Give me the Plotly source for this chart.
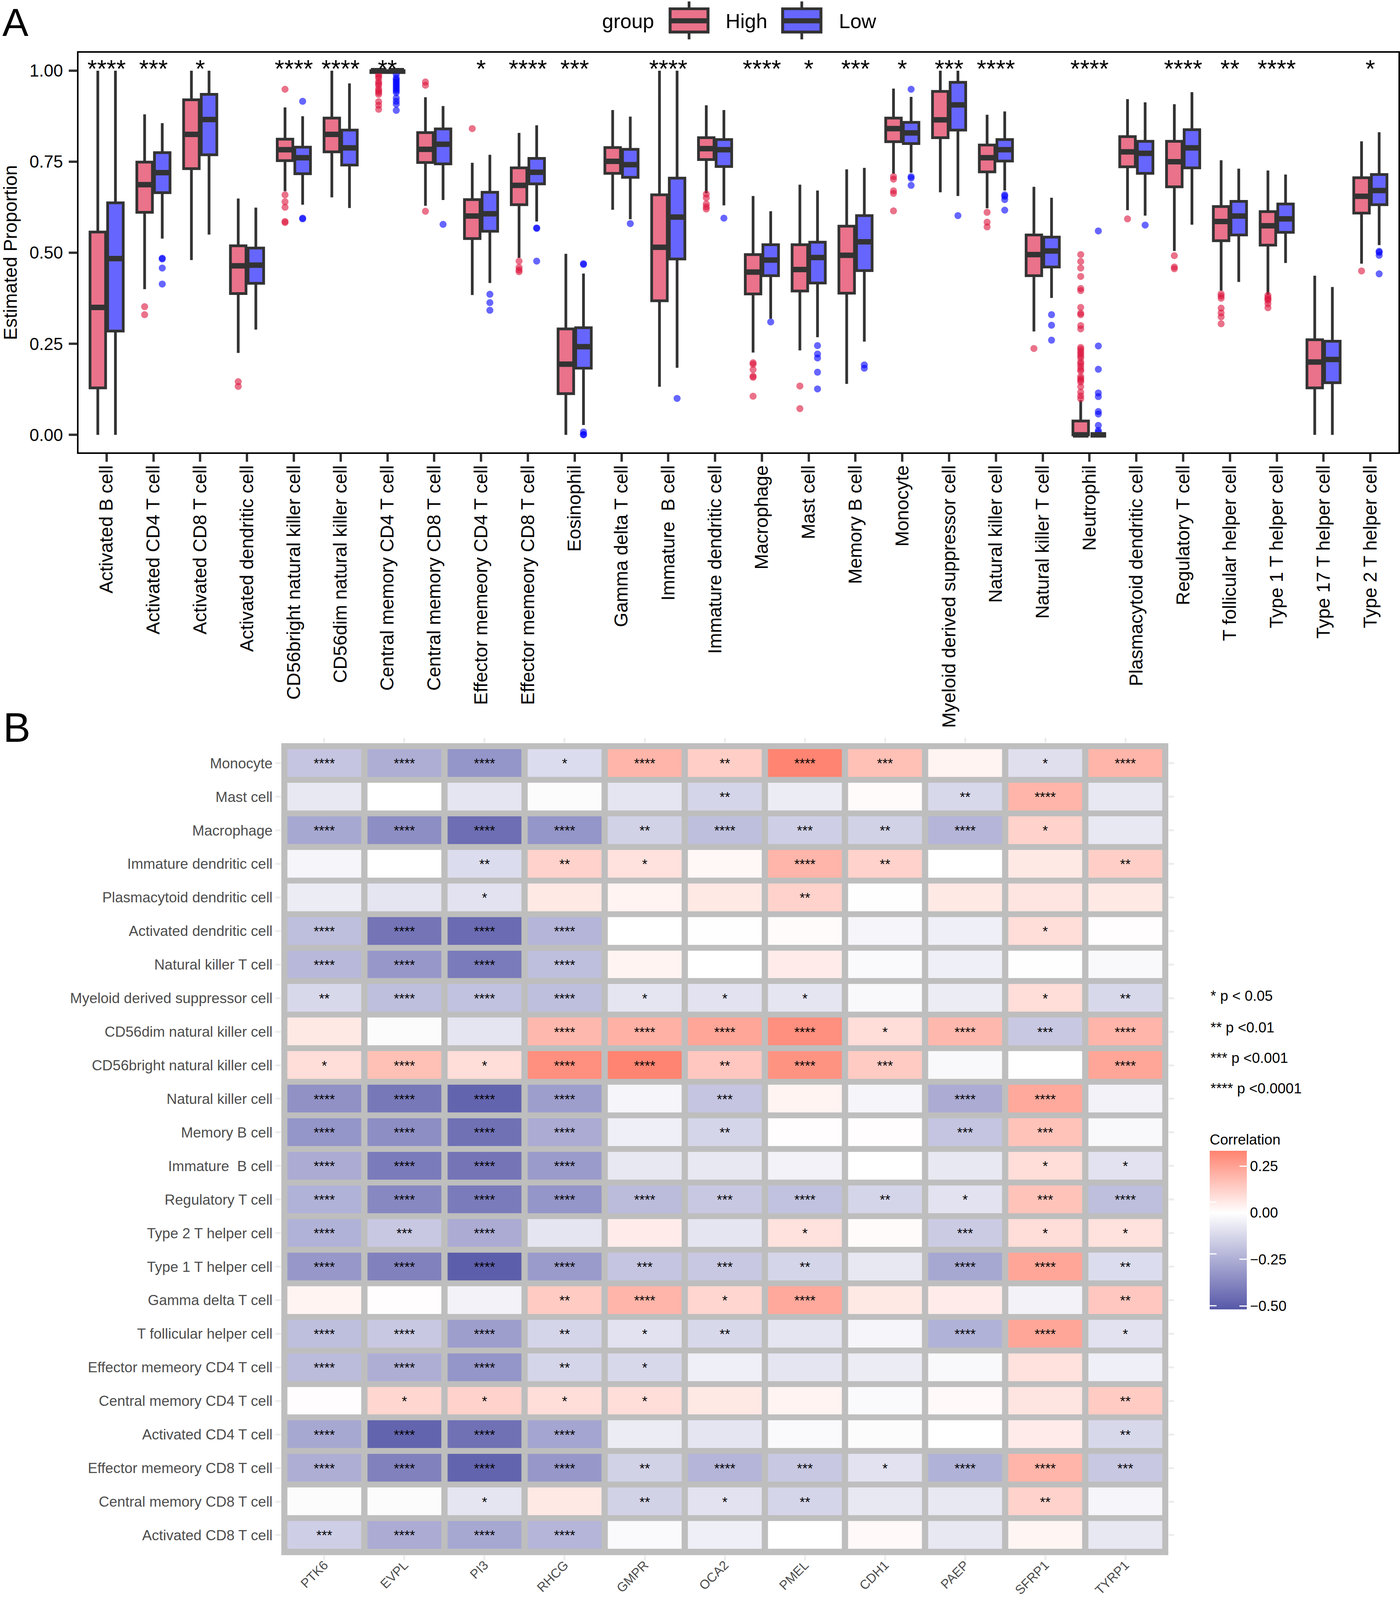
import plotly.graph_objects as go

# the browser only gives 4096 px of height, so the reference's 4390 px layout is kept as fractions of the page
W, H, REF_H = 3583, 4096, 4390
FONT = "Liberation Sans"
DARK = "#333333"

cells = ["Activated B cell", "Activated CD4 T cell", "Activated CD8 T cell", "Activated dendritic cell",
         "CD56bright natural killer cell", "CD56dim natural killer cell", "Central memory CD4 T cell",
         "Central memory CD8 T cell", "Effector memeory CD4 T cell", "Effector memeory CD8 T cell",
         "Eosinophil", "Gamma delta T cell", "Immature \u00a0B cell", "Immature dendritic cell", "Macrophage",
         "Mast cell", "Memory B cell", "Monocyte", "Myeloid derived suppressor cell", "Natural killer cell",
         "Natural killer T cell", "Neutrophil", "Plasmacytoid dendritic cell", "Regulatory T cell",
         "T follicular helper cell", "Type 1 T helper cell", "Type 17 T helper cell", "Type 2 T helper cell"]
sig = ["****", "***", "*", "", "****", "****", "**", "", "*", "****", "***", "", "****", "", "****", "*", "***",
       "*", "***", "****", "", "****", "", "****", "**", "****", "", "*"]
sig_y = [1.0] * 28

high_q1 = [.129, .611, .731, .388, .753, .777, .995, .748, .539, .632, .113, .718, .368, .756, .387, .395, .389,
           .805, .816, .722, .437, .0, .736, .681, .533, .521, .129, .609]
high_med = [.350, .687, .825, .464, .783, .825, 1.0, .784, .601, .685, .194, .751, .515, .786, .447, .454, .493,
            .841, .865, .761, .495, .0, .777, .750, .586, .574, .200, .655]
high_q3 = [.557, .749, .920, .519, .812, .870, 1.0, .830, .646, .733, .291, .789, .659, .816, .495, .522, .573,
           .870, .943, .796, .549, .038, .819, .806, .627, .613, .261, .706]
high_lo = [.0, .400, .480, .225, .669, .652, .995, .629, .384, .486, .0, .618, .132, .663, .226, .232, .140,
           .717, .666, .622, .284, .0, .617, .505, .396, .385, .0, .470]
high_up = [1.0, .880, 1.0, .649, .899, 1.0, 1.0, .927, .747, .829, .497, .892, 1.0, .905, .656, .687, .729,
           .951, 1.0, .879, .681, .095, .922, .908, .754, .726, .437, .806]
high_out = [[], [.352, .330], [], [.146, .133], [.949, .659, .640, .625, .586, .583], [],
            [.99, .985, .98, .97, .965, .96, .95, .945, .94, .935, .915, .905, .894], [.969, .960, .614], [.841],
            [.477, .460, .453, .448], [], [], [], [.661, .651, .634, .626, .620],
            [.198, .194, .179, .161, .158, .106], [.134, .072], [], [.709, .702, .670, .663, .615], [],
            [.611, .584, .571], [.237],
            [.495, .476, .458, .435, .402, .396, .350, .334, .330, .300, .291, .240, .235, .229, .223, .217, .211,
             .200, .195, .188, .180, .175, .160, .155, .150, .145, .132, .117, .107, .099],
            [.593], [.492, .461, .456], [.387, .381, .375, .348, .335, .324, .305],
            [.383, .377, .373, .369, .360, .349], [], [.450]]

low_q1 = [.285, .665, .769, .416, .717, .741, .995, .744, .559, .689, .183, .707, .483, .737, .437, .417, .451,
          .800, .837, .752, .461, .0, .718, .733, .549, .556, .143, .632]
low_med = [.484, .720, .866, .466, .761, .788, 1.0, .798, .607, .721, .242, .742, .598, .783, .480, .487, .530,
           .829, .906, .783, .505, .0, .773, .788, .601, .593, .207, .671]
low_q3 = [.637, .775, .935, .513, .790, .837, 1.0, .840, .666, .759, .294, .784, .705, .811, .522, .529, .602,
          .858, .968, .811, .543, .0, .806, .838, .641, .634, .257, .715]
low_lo = [.0, .539, .550, .289, .632, .623, .995, .645, .417, .586, .027, .592, .184, .630, .319, .268, .256,
          .720, .656, .671, .376, .0, .602, .577, .420, .472, .0, .521]
low_up = [1.0, .856, 1.0, .624, .875, .965, 1.0, .903, .769, .850, .443, .874, 1.0, .892, .614, .671, .733,
          .928, 1.0, .888, .651, .0, .913, .941, .731, .715, .406, .831]
low_out = [[], [.485, .483, .458, .414], [], [], [.916, .595, .593], [],
           [.99, .98, .975, .97, .965, .96, .955, .95, .945, .94, .925, .916, .908, .891], [.578], [.386, .363, .342],
           [.568, .567, .477], [.470, .468, .008, .001, .0], [.580], [.100], [.595], [.310],
           [.245, .222, .211, .172, .126], [.192, .183], [.949, .709, .705, .685], [.602],
           [.659, .655, .646, .617], [.330, .301, .260],
           [.560, .244, .180, .115, .105, .064, .057, .026, .012, .007], [.576], [], [], [], [],
           [.504, .501, .493, .442]]

y_ticks = [0, .25, .5, .75, 1]

genes = ["PTK6", "EVPL", "PI3", "RHCG", "GMPR", "OCA2", "PMEL", "CDH1", "PAEP", "SFRP1", "TYRP1"]
rows = ["Monocyte", "Mast cell", "Macrophage", "Immature dendritic cell", "Plasmacytoid dendritic cell",
        "Activated dendritic cell", "Natural killer T cell", "Myeloid derived suppressor cell",
        "CD56dim natural killer cell", "CD56bright natural killer cell", "Natural killer cell", "Memory B cell",
        "Immature \u00a0B cell", "Regulatory T cell", "Type 2 T helper cell", "Type 1 T helper cell",
        "Gamma delta T cell", "T follicular helper cell", "Effector memeory CD4 T cell", "Central memory CD4 T cell",
        "Activated CD4 T cell", "Effector memeory CD8 T cell", "Central memory CD8 T cell", "Activated CD8 T cell"]
corr = [[-.18, -.25, -.33, -.11, .20, .13, .33, .17, .03, -.10, .20],
        [-.07, .00, -.08, -.01, -.08, -.13, -.06, .01, -.12, .20, -.07],
        [-.27, -.35, -.45, -.33, -.14, -.20, -.15, -.14, -.23, .12, -.07],
        [-.03, .00, -.11, .12, .08, .02, .20, .12, .00, .06, .13],
        [-.06, -.08, -.09, .06, .03, .06, .12, -.002, .06, .07, .06],
        [-.20, -.43, -.46, -.23, .00, -.002, .01, -.03, -.05, .09, .005],
        [-.22, -.32, -.41, -.20, .03, .00, .05, -.015, -.05, .002, -.02],
        [-.12, -.20, -.19, -.20, -.08, -.09, -.08, -.02, -.06, .09, -.12],
        [.06, -.01, -.08, .19, .21, .24, .30, .09, .19, -.17, .20],
        [.09, .17, .09, .30, .33, .15, .29, .14, -.02, .001, .24],
        [-.34, -.42, -.48, -.30, -.03, -.18, .03, -.03, -.26, .23, -.04],
        [-.33, -.35, -.44, -.26, -.05, -.13, .005, .005, -.18, .16, -.02],
        [-.26, -.41, -.43, -.31, -.07, -.07, -.04, .00, -.07, .09, -.09],
        [-.24, -.37, -.41, -.33, -.21, -.17, -.19, -.13, -.09, .16, -.20],
        [-.24, -.17, -.26, -.08, .05, -.08, .08, .01, -.16, .09, .08],
        [-.32, -.39, -.50, -.31, -.18, -.17, -.13, -.07, -.27, .24, -.11],
        [.03, .005, -.04, .14, .20, .11, .23, .06, .05, -.04, .15],
        [-.20, -.17, -.30, -.13, -.09, -.12, -.08, -.03, -.24, .24, -.09],
        [-.21, -.25, -.33, -.13, -.12, -.05, -.08, -.06, -.02, .08, -.05],
        [.005, .11, .12, .09, .09, .06, .03, -.015, .015, .07, .14],
        [-.27, -.48, -.44, -.28, -.06, -.08, -.015, -.01, .00, .05, -.12],
        [-.25, -.39, -.48, -.32, -.14, -.23, -.17, -.09, -.24, .20, -.17],
        [-.01, -.01, -.08, .06, -.14, -.09, -.13, -.07, -.07, .12, -.03],
        [-.15, -.26, -.27, -.23, -.015, -.05, .00, .015, -.07, .025, -.07]]
stars = [["****", "****", "****", "*", "****", "**", "****", "***", "", "*", "****"],
         ["", "", "", "", "", "**", "", "", "**", "****", ""],
         ["****", "****", "****", "****", "**", "****", "***", "**", "****", "*", ""],
         ["", "", "**", "**", "*", "", "****", "**", "", "", "**"],
         ["", "", "*", "", "", "", "**", "", "", "", ""],
         ["****", "****", "****", "****", "", "", "", "", "", "*", ""],
         ["****", "****", "****", "****", "", "", "", "", "", "", ""],
         ["**", "****", "****", "****", "*", "*", "*", "", "", "*", "**"],
         ["", "", "", "****", "****", "****", "****", "*", "****", "***", "****"],
         ["*", "****", "*", "****", "****", "**", "****", "***", "", "", "****"],
         ["****", "****", "****", "****", "", "***", "", "", "****", "****", ""],
         ["****", "****", "****", "****", "", "**", "", "", "***", "***", ""],
         ["****", "****", "****", "****", "", "", "", "", "", "*", "*"],
         ["****", "****", "****", "****", "****", "***", "****", "**", "*", "***", "****"],
         ["****", "***", "****", "", "", "", "*", "", "***", "*", "*"],
         ["****", "****", "****", "****", "***", "***", "**", "", "****", "****", "**"],
         ["", "", "", "**", "****", "*", "****", "", "", "", "**"],
         ["****", "****", "****", "**", "*", "**", "", "", "****", "****", "*"],
         ["****", "****", "****", "**", "*", "", "", "", "", "", ""],
         ["", "*", "*", "*", "*", "", "", "", "", "", "**"],
         ["****", "****", "****", "****", "", "", "", "", "", "", "**"],
         ["****", "****", "****", "****", "**", "****", "***", "*", "****", "****", "***"],
         ["", "", "*", "", "**", "*", "**", "", "", "**", ""],
         ["***", "****", "****", "****", "", "", "", "", "", "", ""]]
cbar_ticks = [-.5, -.25, 0, .25]
p_notes = ["* p < 0.05", "** p <0.01", "*** p <0.001", "**** p <0.0001"]
p_notes_y = [2733, 2819, 2903, 2987]


def px(x):
    return x / W


def py(y):
    return 1 - y / REF_H


HIGH = "rgba(220,20,60,0.6)"
LOW = "rgba(0,0,255,0.6)"

fig = go.Figure()

# boxes, outliers come in through y; a box with none gets its median so the row is not empty (it is not drawn)
for name, col, q1, med, q3, lo, up, out in [("High", HIGH, high_q1, high_med, high_q3, high_lo, high_up, high_out),
                                            ("Low", LOW, low_q1, low_med, low_q3, low_lo, low_up, low_out)]:
    pts = [o if o else [m] for o, m in zip(out, med)]
    fig.add_trace(go.Box(x=cells, y=pts, q1=q1, median=med, q3=q3, lowerfence=lo, upperfence=up, name=name,
                         offsetgroup=name, alignmentgroup="a", fillcolor=col, whiskerwidth=0,
                         line=dict(color=DARK, width=7), boxpoints="outliers", pointpos=0, jitter=0,
                         marker=dict(color=col, size=18, line=dict(width=0)), xaxis="x", yaxis="y"))
# plotly has no fatten, so the thick median is a collapsed box on top
for name, med in [("High", high_med), ("Low", low_med)]:
    fig.add_trace(go.Box(x=cells, q1=med, median=med, q3=med, lowerfence=med, upperfence=med, name=name + " median",
                         offsetgroup=name, alignmentgroup="a", fillcolor=DARK, whiskerwidth=0, boxpoints=False,
                         line=dict(color=DARK, width=14), xaxis="x", yaxis="y"))

fig.add_trace(go.Scatter(x=cells, y=sig_y, text=sig, mode="text", textposition="middle center",
                         textfont=dict(family=FONT, size=63, color="black"), xaxis="x", yaxis="y"))

fig.add_trace(go.Heatmap(z=corr, x=genes, y=rows, text=stars, texttemplate="%{text}",
                         textfont=dict(family=FONT, size=35, color="black"), xgap=16, ygap=15,
                         zmin=-.518, zmax=.333,
                         colorscale=[[0, "#5758A8"], [.518 / .851, "#FFFFFF"], [1, "#FF8370"]],
                         colorbar=dict(x=px(3096), xanchor="left", xpad=0, y=py(3350), yanchor="middle", ypad=0,
                                       len=452, lenmode="pixels", thickness=95, thicknessmode="pixels",
                                       outlinewidth=0, ticks="inside", ticklen=19, tickcolor="white", tickwidth=3,
                                       tickvals=cbar_ticks, tickformat=".2f", tickprefix="\u00a0",
                                       tickfont=dict(family=FONT, size=37, color="black"),
                                       title=dict(text="Correlation", side="top",
                                                  font=dict(family=FONT, size=37, color="black"))),
                         xaxis="x2", yaxis="y2"))

shapes = [dict(type="rect", xref="x2 domain", yref="y2 domain", x0=0, x1=1, y0=0, y1=1, layer="below",
               fillcolor="#BEBEBE", line=dict(width=0))]
annotations = []

# legend of panel A
for x0, x1, col, label, label_x in [(1715, 1812, HIGH, "High", 1855), (2003, 2101, LOW, "Low", 2145)]:
    xc = (x0 + x1) / 2
    shapes.append(dict(type="line", xref="paper", yref="paper", x0=px(xc), x1=px(xc), y0=py(4), y1=py(108),
                       line=dict(color=DARK, width=7)))
    shapes.append(dict(type="rect", xref="paper", yref="paper", x0=px(x0), x1=px(x1), y0=py(88), y1=py(24),
                       fillcolor="white", line=dict(color=DARK, width=7)))
    shapes.append(dict(type="rect", xref="paper", yref="paper", x0=px(x0), x1=px(x1), y0=py(88), y1=py(24),
                       fillcolor=col, line=dict(color=DARK, width=7)))
    shapes.append(dict(type="line", xref="paper", yref="paper", x0=px(x0), x1=px(x1), y0=py(57), y1=py(57),
                       line=dict(color=DARK, width=13)))
    annotations.append(dict(text=label, xref="paper", yref="paper", x=px(label_x), y=py(58), xanchor="left",
                            yanchor="middle", showarrow=False, font=dict(family=FONT, size=52, color="black")))
annotations.append(dict(text="group", xref="paper", yref="paper", x=px(1539), y=py(58), xanchor="left",
                        yanchor="middle", showarrow=False, font=dict(family=FONT, size=52, color="black")))

annotations.append(dict(text="A", xref="paper", yref="paper", x=px(5), y=1, xanchor="left", yanchor="top",
                        showarrow=False, borderpad=0, font=dict(family=FONT, size=100, color="black")))
annotations.append(dict(text="B", xref="paper", yref="paper", x=px(6), y=py(1996), xanchor="left", yanchor="middle",
                        showarrow=False, font=dict(family=FONT, size=105, color="black")))

for t, y in zip(p_notes, p_notes_y):
    annotations.append(dict(text=t, xref="paper", yref="paper", x=px(3096), y=py(y), xanchor="left", yanchor="middle",
                            showarrow=False, font=dict(family=FONT, size=37, color="black")))

# left half of the white colourbar ticks
for v in cbar_ticks:
    annotations.append(dict(text="", xref="paper", yref="paper", x=px(3096), y=py(3298 - v / .25 * 142.3), ax=19, ay=0,
                            showarrow=True, arrowhead=0, arrowwidth=3, arrowcolor="white", standoff=0))

fig.update_layout(
    template="none", width=W, height=H, autosize=False, margin=dict(l=0, r=0, t=0, b=0, pad=0),
    paper_bgcolor="white", plot_bgcolor="white", showlegend=False,
    boxmode="group", boxgap=.247, boxgroupgap=.116,
    shapes=shapes, annotations=annotations,
    xaxis=dict(domain=[px(201), px(3579)], anchor="y", type="category", categoryorder="array", categoryarray=cells,
               range=[-.6, 27.6], tickangle=-90, ticks="outside", ticklen=20, tickwidth=6, tickcolor=DARK,
               tickfont=dict(family=FONT, size=48, color="black"), showline=True, linecolor="black", linewidth=4,
               mirror=True, showgrid=False, zeroline=False, ticklabelstandoff=-10, automargin=False),
    yaxis=dict(domain=[py(1241), py(145)], anchor="x", range=[-.048, 1.049], tickvals=y_ticks, tickformat=".2f",
               ticks="outside", ticklen=21, tickwidth=6, tickcolor=DARK,
               tickfont=dict(family=FONT, size=44, color="black"), showline=True, linecolor="black", linewidth=4,
               mirror=True, showgrid=False, zeroline=False, ticklabelstandoff=6, automargin=False,
               title=dict(text="Estimated Proportion", standoff=43, font=dict(family=FONT, size=48, color="black"))),
    xaxis2=dict(domain=[px(720), px(2990)], anchor="y2", type="category", categoryorder="array", categoryarray=genes,
                range=[-.5365, 10.5365], tickangle=-45, ticks="outside", ticklen=12, tickwidth=5, tickcolor="#EDEDED",
                mirror="ticks", tickfont=dict(family=FONT, size=33, color="#4D4D4D"), showline=False, showgrid=False,
                zeroline=False, ticklabelstandoff=-20, automargin=False),
    yaxis2=dict(domain=[py(4267), py(2039)], anchor="x2", type="category", categoryorder="array", categoryarray=rows,
                range=[23.597, -.597], ticks="outside", ticklen=14, tickwidth=5, tickcolor="#EDEDED",
                mirror="ticks", tickfont=dict(family=FONT, size=37, color="#4D4D4D"), showline=False, showgrid=False,
                zeroline=False, automargin=False),
)

page_js = ("document.body.style.margin='0';"
           "if(window.innerHeight!=%d){Plotly.relayout(document.getElementById('{plot_id}'),"
           "{height:window.innerHeight});}" % H)
fig.write_html("out.html", config=dict(displayModeBar=False), post_script=page_js)
